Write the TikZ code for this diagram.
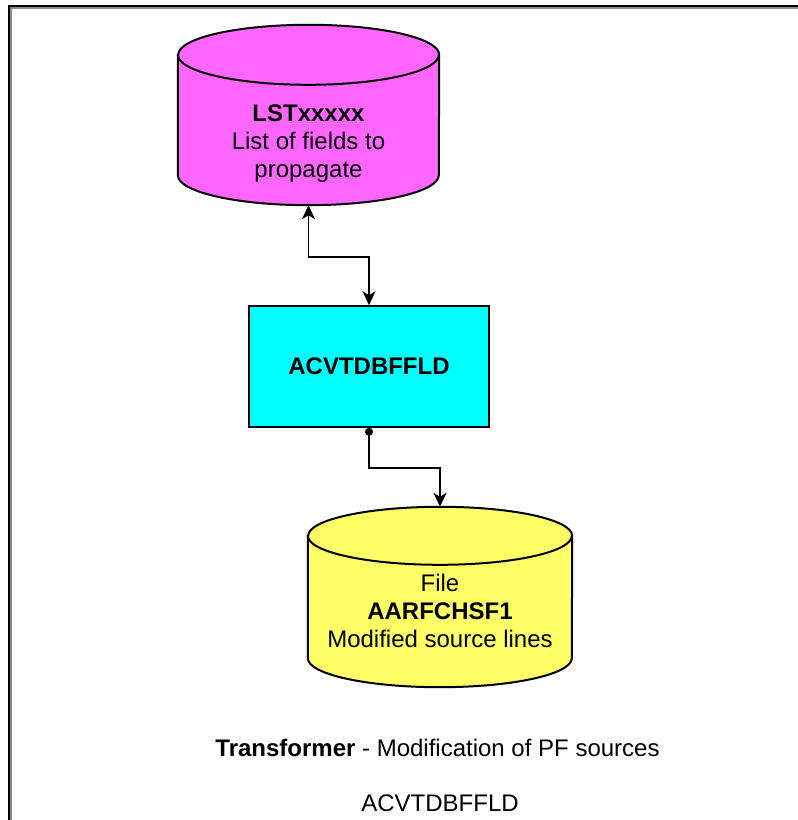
\documentclass[tikz,border=0pt]{standalone}
\usepackage{fontspec}
\setmainfont{Liberation Sans}
\usetikzlibrary{arrows.meta,calc}

\definecolor{lstfill}{HTML}{FF66FF}
\definecolor{pgmfill}{HTML}{00FFFF}
\definecolor{filefill}{HTML}{FFFF66}

\tikzset{
  flowtip/.tip={Stealth[length=14pt, width=13pt, inset=4pt]},
  flowdot/.tip={Circle[length=8pt]}
}

% cylinder drawn over the extent of a named (invisible) node
% #1 node, #2 fill, #3 x radius, #4 y radius
\newcommand\drawdbcyl[4]{%
  \path[cylline, fill=#2]
    ($(#1.north west)+(0,-#4)$) -- ($(#1.south west)+(0,#4)$)
    arc[start angle=180, end angle=360, x radius=#3, y radius=#4]
    -- ($(#1.north east)+(0,-#4)$)
    arc[start angle=0, end angle=180, x radius=#3, y radius=#4] -- cycle;
  \draw[cylline] ($(#1.north west)+(0,-#4)$)
    arc[start angle=180, end angle=360, x radius=#3, y radius=#4];
}

\begin{document}
\begin{tikzpicture}[x=1pt, y=1pt,
  cylline/.style={draw=black, line width=2pt},
  dbarea/.style={draw=none, inner sep=0pt, align=center,
    font=\fontsize{24}{28}\selectfont},
  pgmbox/.style={draw=black, line width=1.5pt, fill=pgmfill, inner sep=0pt,
    minimum width=240, minimum height=121,
    font=\fontsize{24}{28}\selectfont\bfseries},
  flow/.style={draw=black, line width=1.6pt},
  caption/.style={font=\fontsize{24}{28}\selectfont, inner sep=0pt},
  frameline/.style={line width=2pt, draw=black, line cap=rect}
]
\useasboundingbox (0,0) rectangle (798,820);

% outer frame (top and left edges only)
\draw[line width=1.5pt, draw=black!45] (11,0) -- (11,812) -- (798,812);
\draw[frameline] (9,0) -- (9,814) -- (798,814);

% list of fields (magenta store)
\node[dbarea, minimum width=261, minimum height=180] (lst) at (308.5,705) {};
\drawdbcyl{lst}{lstfill}{130.5}{30}
\node[dbarea] (lsttext) at (308.5,676)
  {\textbf{LSTxxxxx}\\List of fields to\\propagate};

% program
\node[pgmbox] (pgm) at (369,453.5) {ACVTDBFFLD};

% output file (yellow store)
\node[dbarea, minimum width=264, minimum height=180] (outfile) at (440,223) {};
\drawdbcyl{outfile}{filefill}{132}{29}
\node[dbarea] (filetext) at (440,209)
  {File\\\textbf{AARFCHSF1}\\Modified source lines};

% connectors
\draw[flow, {flowtip}-{flowtip}] (lst.south) -- ++(0,-52) -| (pgm.north);
\draw[flow, {flowdot}-{flowtip}] (pgm.south) -- ++(0,-40) -| (outfile.north);

% captions
\node[caption] (cap1) at (437.5,72) {\textbf{Transformer} - Modification of PF sources};
\node[caption] (cap2) at (440,17) {ACVTDBFFLD};
\end{tikzpicture}
\end{document}
